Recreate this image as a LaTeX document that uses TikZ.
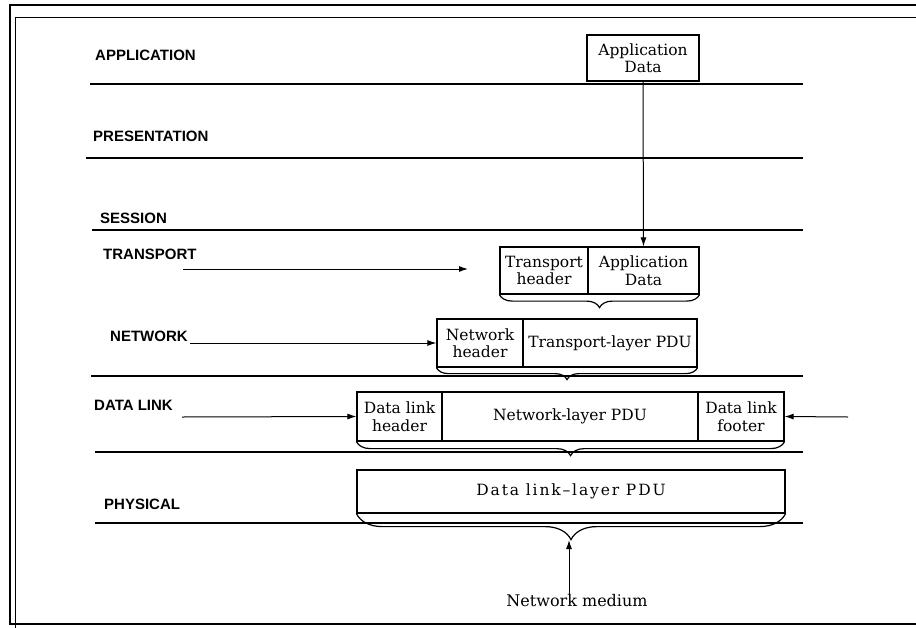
\documentclass[tikz,border=0pt]{standalone}
\usepackage{fontspec}
\setmainfont{DejaVu Serif}
\setsansfont{Liberation Sans}
\newfontfamily\spacedfont[LetterSpace=12]{DejaVu Serif}
\usetikzlibrary{decorations.pathreplacing,arrows.meta}

\begin{document}
\begin{tikzpicture}[x=1pt,y=-1pt,
  layer/.style={anchor=west,inner sep=0pt,font=\sffamily\bfseries\fontsize{15}{15}\selectfont},
  layerline/.style={line width=2.4pt},
  pdubox/.style={draw,line width=1.2pt,inner sep=0pt,align=center,font=\fontsize{15.5}{17.5}\selectfont},
  pdubrace/.style={decorate,decoration={brace,mirror,amplitude=#1},line width=1.2pt},
  flow/.style={-{Latex[length=9pt,width=6pt]},line width=1pt}]
\useasboundingbox (0,0) rectangle (916,627);
% frame of the scanned page
\draw [line width=2pt] (10,5) rectangle (930,624);
\draw [line width=0.8pt] (15,930) -- (15,17) -- (930,17);
% layers
\node [layer] (application) at (95,55) {APPLICATION};
\node [layer] (presentation) at (93,136) {PRESENTATION};
\node [layer] (session) at (100,218) {SESSION};
\node [layer] (transport) at (103,254) {TRANSPORT};
\node [layer] (network) at (110,336) {NETWORK};
\node [layer] (datalink) at (94,405) {DATA LINK};
\node [layer] (physical) at (104,504) {PHYSICAL};
\draw [layerline] (90,84) -- (803,84);
\draw [layerline] (86,158) -- (803,158);
\draw [layerline] (92,230) -- (803,230);
\draw [layerline] (91,376) -- (803,376);
\draw [layerline] (95,452) -- (803,452);
\draw [layerline] (95,523) -- (803,523);
% application
\node [pdubox,minimum width=112pt,minimum height=46pt] (appData) at (643,58) {Application\\Data};
% transport
\node [pdubox,minimum width=88pt,minimum height=47pt] (transHdr) at (544,270.5) {Transport\\header};
\node [pdubox,minimum width=111pt,minimum height=47pt] (transData) at (643.5,270.5) {Application\\Data};
\draw [pdubrace=13pt] (transHdr.south west) -- (transData.south east);
\draw [flow] (appData.south) -- (transData.north);
\coordinate (transIn) at (183,269);
\coordinate (transEnd) at (468,269);
\draw [flow] (transIn) -- (transEnd);
% network
\node [pdubox,minimum width=86pt,minimum height=48pt] (netHdr) at (480,343) {Network\\header};
\node [pdubox,minimum width=174pt,minimum height=48pt] (netData) at (610,343) {Transport-layer PDU};
\draw [pdubrace=12pt] (netHdr.south west) -- (netData.south east);
\coordinate (netIn) at (190,343);
\draw [flow] (netIn) -- (netHdr.west);
% data link
\node [pdubox,minimum width=85pt,minimum height=49pt] (dlHdr) at (399.5,416.5) {Data link\\header};
\node [pdubox,minimum width=256pt,minimum height=49pt] (dlData) at (570,416.5) {Network-layer PDU};
\node [pdubox,minimum width=86pt,minimum height=49pt] (dlFtr) at (741,416.5) {Data link\\footer};
\draw [pdubrace=14pt] (dlHdr.south west) -- (dlFtr.south east);
\coordinate (dlIn) at (182,417);
\draw [flow] (dlIn) -- (dlHdr.west);
\coordinate (dlInR) at (848,417);
\draw [flow] (dlInR) -- (dlFtr.east);
% physical
\node [pdubox,minimum width=428pt,minimum height=43pt,font=\spacedfont\fontsize{15.5}{17.5}\selectfont] (pdu) at (571,491.5) {Data link–layer PDU};
\draw [pdubrace=26pt] (pdu.south west) -- (pdu.south east);
\coordinate (pduTip) at (569,540);
\node [font=\fontsize{16}{18}\selectfont,inner sep=0pt] (medium) at (577,601) {Network medium};
\draw [flow] ([yshift=-7pt]medium.north -| pduTip) -- (pduTip);
\end{tikzpicture}
\end{document}
